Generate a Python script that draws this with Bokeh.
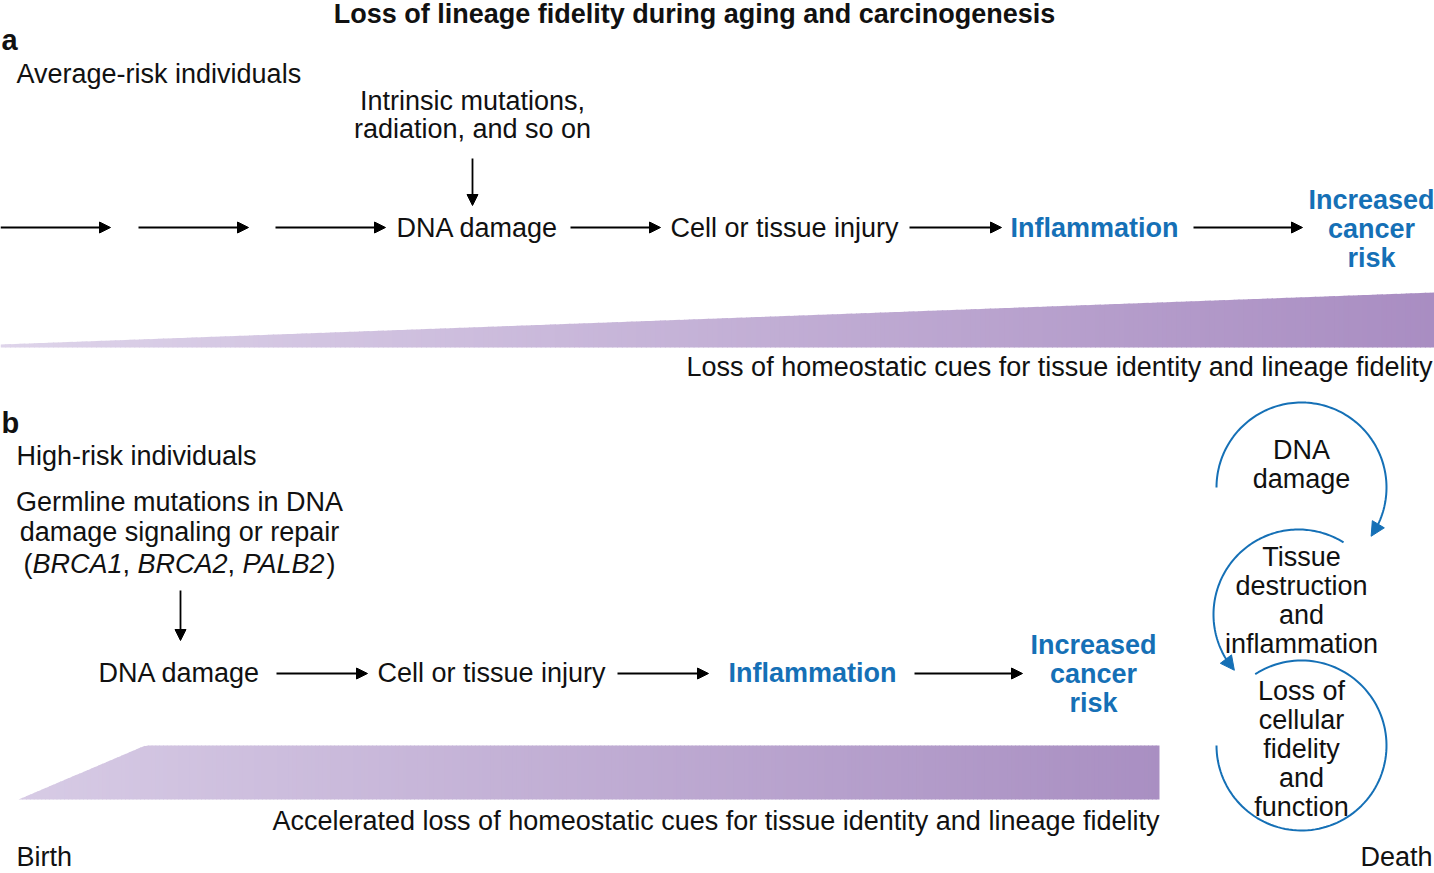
import numpy as np
from bokeh.plotting import figure
from bokeh.models import Range1d, Arrow, NormalHead, ColumnDataSource
from bokeh.embed import file_html
from bokeh.resources import INLINE
from bokeh.core.properties import value

# ---------------- data (labels of the diagram) ----------------
title = "Loss of lineage fidelity during aging and carcinogenesis"
panel_labels = ["a", "b"]
group_labels = ["Average-risk individuals", "High-risk individuals"]
cause_a = ["Intrinsic mutations,", "radiation, and so on"]
cause_b = ["Germline mutations in DNA", "damage signaling or repair"]
cause_b_genes = ["(", "BRCA1", ", ", "BRCA2", ", ", "PALB2", ")"]
cause_b_italic = [False, True, False, True, False, True, False]
steps_a = ["DNA damage", "Cell or tissue injury"]
steps_b = ["DNA damage", "Cell or tissue injury"]
key_step = "Inflammation"
outcome = ["Increased", "cancer", "risk"]
gradient_labels = ["Loss of homeostatic cues for tissue identity and lineage fidelity",
                   "Accelerated loss of homeostatic cues for tissue identity and lineage fidelity"]
time_labels = ["Birth", "Death"]
cycle_labels = [["DNA", "damage"],
                ["Tissue", "destruction", "and", "inflammation"],
                ["Loss of", "cellular", "fidelity", "and", "function"]]

# ---------------- layout / style ----------------
REF_W, REF_H = 1434, 873
W, H = 1434, 873
S = W / REF_W
FS = 27.0                     # font size in reference pixels
FONT = "Liberation Sans"
BLACK = "#111111"
BLUE = "#1570b6"
TDY = -9                      # vertical text offset

p = figure(width=W, height=H, x_range=Range1d(0, REF_W), y_range=Range1d(REF_H, 0),
           output_backend="svg", toolbar_location=None, min_border=0,
           background_fill_color="white", border_fill_color="white")
p.axis.visible = False
p.grid.visible = False
p.outline_line_color = None


def fs(size=FS):
    return f"{size * S:.2f}px"


def texts(xs, ys, labels, align="left", style="normal", color=BLACK, size=FS):
    src = ColumnDataSource(dict(x=list(xs), y=[v + TDY for v in ys], t=list(labels)))
    p.text(x="x", y="y", text="t", source=src, text_align=align, text_baseline="alphabetic",
           text_font=value(FONT), text_font_size=fs(size), text_font_style=style,
           text_color=color)


# ---------- gradient wedges ----------
def wedge(x0, x1, top_fn, ybot, c0, c1, n=300):
    c0 = np.array([int(c0[i:i + 2], 16) for i in (1, 3, 5)], float)
    c1 = np.array([int(c1[i:i + 2], 16) for i in (1, 3, 5)], float)
    edges = np.linspace(x0, x1, n + 1)
    xs, ys, cols = [], [], []
    for i in range(n):
        a, b = edges[i], edges[i + 1]
        b2 = min(b + 0.9, x1)
        t = (a + b) / 2
        f = (t - x0) / (x1 - x0)
        c = c0 + (c1 - c0) * f
        cols.append("#%02x%02x%02x" % tuple(int(round(v)) for v in c))
        xs.append([a, b2, b2, a])
        ys.append([top_fn(a), top_fn(b2), ybot, ybot])
    p.patches(xs=xs, ys=ys, fill_color=cols, line_color=None)


wedge(0, 1434, lambda x: 344 - (344 - 292) * x / 1434, 347, "#ded4ea", "#a98dc2")
wedge(18, 1159, lambda x: (799 - (799 - 745) * (x - 18) / (145 - 18)) if x < 145 else 745,
      799, "#d7cbe5", "#a98fc2")

# ---------- black arrows ----------
arr = ColumnDataSource(dict(
    x0=[0, 138, 275, 570, 909, 1193, 472, 180, 276, 617, 914],
    y0=[227, 227, 227, 227, 227, 227, 158, 590, 673, 673, 673],
    x1=[110, 248, 385, 660, 1001, 1302, 472, 180, 367, 708, 1022],
    y1=[227, 227, 227, 227, 227, 227, 205, 640, 673, 673, 673]))
p.add_layout(Arrow(source=arr, x_start="x0", y_start="y0", x_end="x1", y_end="y1",
                   line_color="black", line_width=1.8,
                   end=NormalHead(size=11, fill_color="black", line_color="black", line_width=1)))

# ---------- cycle (circular arrows) ----------
cycles = [  # cx, cy, r, theta_start, theta_end (deg), arrow at end
    (1301, 487, 85, 180, -35, True),
    (1298, 614, 85, 58, 221, True),
    (1301, 745, 85, 123, -180, False),
]
for cx, cy, r, t0, t1, head in cycles:
    sgn = 1 if t1 > t0 else -1
    t_line_end = t1 - sgn * 6 if head else t1
    th = np.radians(np.linspace(t0, t_line_end, 120))
    p.line(cx + r * np.cos(th), cy - r * np.sin(th), line_color=BLUE, line_width=2)
    if head:
        tb = np.radians(t1 - sgn * 8)
        te = np.radians(t1)
        p.add_layout(Arrow(x_start=cx + r * np.cos(tb), y_start=cy - r * np.sin(tb),
                           x_end=cx + r * np.cos(te), y_end=cy - r * np.sin(te),
                           line_color=BLUE, line_width=2,
                           end=NormalHead(size=14, fill_color=BLUE, line_color=BLUE, line_width=1)))

cycle_base = [458, 565, 699]
for lines, y0 in zip(cycle_labels, cycle_base):
    texts([1301] * len(lines), [y0 + 29 * i for i in range(len(lines))], lines, align="center")

# ---------- texts ----------
texts([694], [22], [title], align="center", style="bold")
texts([1, 1], [48, 431], panel_labels, style="bold", size=29)
texts([16, 16], [82, 464], group_labels)
texts([472, 472], [109, 137], cause_a, align="center")
texts([179, 179], [510, 540], cause_b, align="center")

# genes line with italics (Arial metrics for positioning)
w_tab = {"(": .333, ")": .333, ",": .278, " ": .278, "B": .667, "R": .722, "C": .722,
         "A": .667, "1": .556, "2": .556, "P": .667, "L": .556}
widths = [sum(w_tab[c] for c in s) * FS for s in cause_b_genes]
x = 179 - sum(widths) / 2
gx_n, gt_n, gx_i, gt_i = [], [], [], []
for s, w, it in zip(cause_b_genes, widths, cause_b_italic):
    (gx_i if it else gx_n).append(x)
    (gt_i if it else gt_n).append(s)
    x += w
texts(gx_n, [572] * len(gx_n), gt_n)
texts(gx_i, [572] * len(gx_i), gt_i, style="italic")

texts([477, 784], [236, 236], steps_a, align="center")
texts([179, 491], [681, 681], steps_b, align="center")
texts([1094, 812], [236, 681], [key_step, key_step], align="center", style="bold", color=BLUE)
texts([1371] * 3, [208, 237, 266], outcome, align="center", style="bold", color=BLUE)
texts([1093] * 3, [653, 682, 711], outcome, align="center", style="bold", color=BLUE)
texts([1432, 1159], [375, 829], gradient_labels, align="right")
texts([16], [865], [time_labels[0]])
texts([1432], [865], [time_labels[1]], align="right")

open("out.html", "w").write(file_html(p, INLINE))
